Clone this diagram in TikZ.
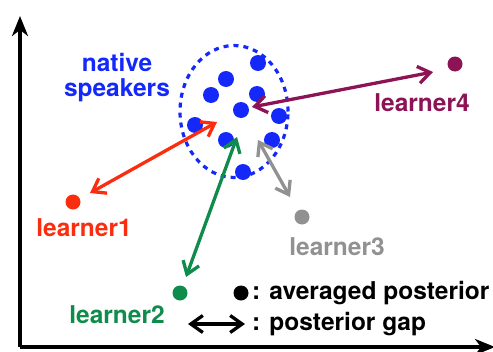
\documentclass[tikz,border=0pt]{standalone}
\usepackage{fontspec}
\setmainfont{TeX Gyre Heros}
\usetikzlibrary{arrows.meta,shapes.geometric}
\definecolor{nblue}{RGB}{20,40,250}
\definecolor{lred}{RGB}{250,45,15}
\definecolor{lgreen}{RGB}{15,140,75}
\definecolor{lgray}{RGB}{145,145,145}
\definecolor{lpurple}{RGB}{140,20,85}
\begin{document}
\begin{tikzpicture}[x=1pt,y=-1pt,
  lbl/.style={font=\fontsize{24.5}{26}\selectfont\bfseries, inner sep=0pt},
  bdot/.style={circle, fill=nblue, minimum size=16pt, inner sep=0pt},
  ldot/.style={circle, minimum size=15pt, inner sep=0pt},
  gap/.style={line width=3.3pt, {Straight Barb[length=12pt,width=17pt]}-{Straight Barb[length=12pt,width=17pt]}},
  axis/.style={line width=3.4pt, -{Stealth[length=20pt,width=16pt,inset=6pt]}}]
\useasboundingbox (0,0) rectangle (493,351);
% axes
\coordinate (o) at (20,347);
\coordinate (ytop) at (20,16);
\coordinate (xend) at (495,347);
\draw[axis] (o) -- (ytop);
\draw[axis] (o) -- (xend);
% cluster
\node[draw=nblue, dash pattern=on 5pt off 5pt, line width=3.2pt, ellipse, minimum width=108pt, minimum height=132pt, inner sep=0pt] (ell) at (234,111.5) {};
\node[bdot] (d1) at (258,63) {};
\node[bdot] (d2) at (226,79) {};
\node[bdot] (d3) at (211,95) {};
\node[bdot] (d4) at (257,94) {};
\node[bdot] (d5) at (241,110) {};
\node[bdot] (d6) at (279,116) {};
\node[bdot] (d7) at (195,125) {};
\node[bdot] (d8) at (226,140) {};
\node[bdot] (d9) at (272,140) {};
\node[bdot] (d10) at (243,172) {};
\node[lbl, text=nblue, align=center] (ns) at (117,78) {native\\[-1pt]speakers};
% learners
\node[ldot, fill=lred] (l1) at (73,202) {};
\node[lbl, text=lred] (t1) at (84,228) {learner1};
\node[ldot, fill=lgreen] (l2) at (180,293) {};
\node[lbl, text=lgreen] (t2) at (117,315) {learner2};
\node[ldot, fill=lgray] (l3) at (302,217) {};
\node[lbl, text=lgray] (t3) at (337,247) {learner3};
\node[ldot, fill=lpurple] (l4) at (455,64) {};
\node[lbl, text=lpurple] (t4) at (422,103) {learner4};
% gaps
\coordinate (a1) at (90,193); \coordinate (b1) at (217,122);
\coordinate (a2) at (186,277); \coordinate (b2) at (237,137);
\coordinate (a3) at (290,197); \coordinate (b3) at (258,140);
\coordinate (a4) at (433,72); \coordinate (b4) at (252,107);
\draw[gap, lred] (a1) -- (b1);
\draw[gap, lgreen] (a2) -- (b2);
\draw[gap, lgray] (a3) -- (b3);
\draw[gap, lpurple] (a4) -- (b4);
% legend
\node[ldot, fill=black] (kd) at (241,293) {};
\node[lbl, anchor=west] (kt1) at (252,293) {: averaged posterior};
\coordinate (ka) at (188,324); \coordinate (kb) at (245,324);
\draw[gap, black] (ka) -- (kb);
\node[lbl, anchor=west] (kt2) at (252,324) {: posterior gap};
\end{tikzpicture}
\end{document}
